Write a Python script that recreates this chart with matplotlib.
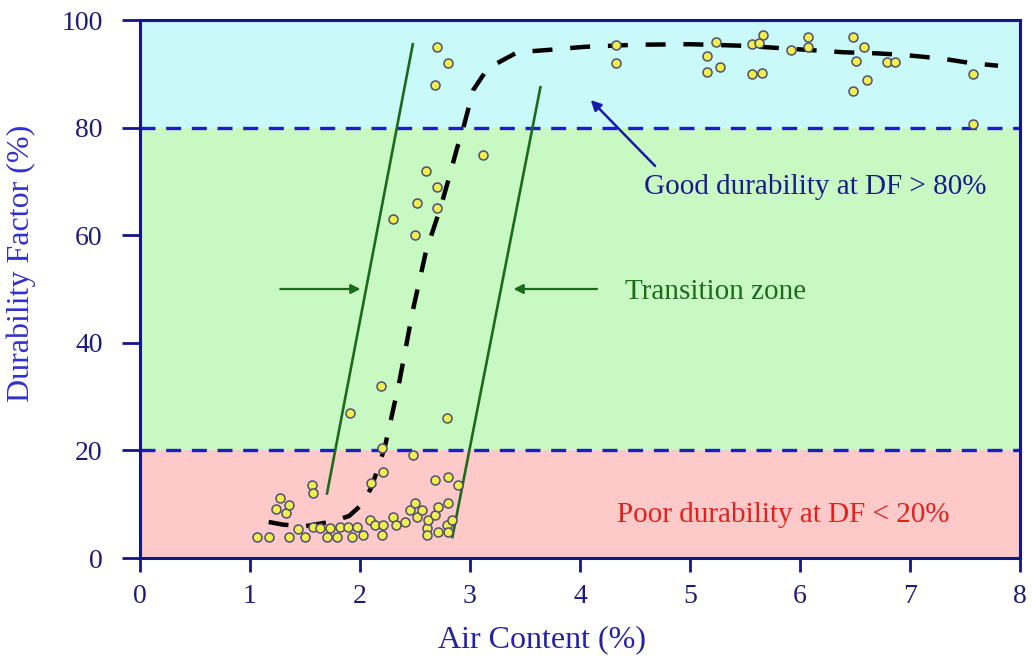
import numpy as np
import matplotlib
matplotlib.use("Agg")
import matplotlib.pyplot as plt

# data
air_content = [1.06, 1.17, 1.24, 1.27, 1.33, 1.35, 1.35, 1.44, 1.50, 1.56, 1.57, 1.57, 1.64,
               1.70, 1.73, 1.79, 1.82, 1.89, 1.91, 1.93, 1.97, 2.03, 2.09, 2.10, 2.14, 2.19,
               2.20, 2.20, 2.21, 2.21, 2.30, 2.30, 2.33, 2.41, 2.45, 2.48, 2.50, 2.50, 2.52,
               2.52, 2.56, 2.60, 2.61, 2.61, 2.62, 2.68, 2.68, 2.68, 2.70, 2.70, 2.70, 2.71,
               2.71, 2.79, 2.79, 2.80, 2.80, 2.80, 2.80, 2.84, 2.89, 3.12,
               4.33, 4.33, 5.15, 5.15, 5.24, 5.27, 5.56, 5.56, 5.63, 5.65, 5.66, 5.92,
               6.07, 6.07, 6.48, 6.48, 6.51, 6.58, 6.61, 6.79, 6.86, 7.57, 7.57]
durability = [3.9, 3.9, 9.1, 11.1, 8.4, 9.9, 3.9, 5.4, 3.9, 13.6, 12.0, 5.8, 5.6,
              3.9, 5.6, 3.9, 5.8, 5.8, 27.0, 3.9, 5.8, 4.3, 7.1, 14.0, 6.1, 32.0,
              20.4, 4.3, 16.0, 6.1, 7.6, 63.0, 6.1, 6.7, 8.9, 19.1, 10.2, 60.0, 66.0,
              7.6, 8.9, 72.0, 5.6, 4.3, 7.1, 14.5, 8.0, 88.0, 69.0, 65.0, 95.0, 9.5,
              4.8, 26.0, 6.1, 15.0, 10.2, 4.8, 92.0, 7.1, 13.6, 75.0,
              95.3, 92.0, 93.3, 90.3, 96.0, 91.3, 95.5, 90.0, 95.7, 90.1, 97.2, 94.4,
              96.8, 95.0, 96.8, 86.8, 92.4, 95.0, 88.8, 92.2, 92.2, 90.0, 80.7]

curve_x = [1.17, 1.3, 1.5, 1.75, 1.9, 2.02, 2.1, 2.17, 2.23, 2.36, 2.48, 2.6, 2.73, 2.8,
           2.88, 2.94, 3.03, 3.16, 3.43, 3.75, 4.03, 4.5, 5.0, 5.5, 6.1, 6.4, 6.7, 6.95,
           7.3, 7.55, 7.8]
curve_y = [6.7, 6.2, 5.9, 6.8, 7.8, 10.0, 13.0, 17.0, 21.0, 33.0, 46.0, 57.0, 65.0, 70.0,
           76.0, 80.0, 87.0, 91.0, 94.0, 94.5, 95.0, 95.4, 95.5, 95.2, 94.4, 94.0, 93.8,
           93.5, 92.8, 92.0, 91.5]

left_bound_x = [1.70, 2.48]
left_bound_y = [12.0, 95.5]
right_bound_x = [2.84, 3.64]
right_bound_y = [3.9, 87.5]

zone_edges = [0, 20, 80, 100]
zone_colors = ["#fdc9c9", "#c9f9c3", "#c9f9f9"]

navy = "#14148c"
green = "#1c6b1c"

plt.rcParams["font.family"] = ["Liberation Serif", "DejaVu Serif"]

fig = plt.figure(figsize=(10.32, 6.58), dpi=100)
fig.patch.set_facecolor("white")
ax = fig.add_axes([140 / 1032, 1 - 558 / 658, 880 / 1032, 538 / 658])

for i in range(3):
    ax.axhspan(zone_edges[i], zone_edges[i + 1], color=zone_colors[i], lw=0, zorder=0)

for yl in (20, 80):
    ax.axhline(yl, color="#1c1cc8", lw=2.4, ls=(0, (4.5, 3.2)), zorder=1)

# transition zone boundaries
ax.plot(left_bound_x, left_bound_y, color=green, lw=1.9, zorder=2)
ax.plot(right_bound_x, right_bound_y, color=green, lw=1.9, zorder=2)
ax.annotate("", xy=(2.03, 50), xytext=(1.25, 50),
            arrowprops=dict(arrowstyle="-|>", color=green, lw=1.6, mutation_scale=14))
ax.annotate("", xy=(3.37, 50), xytext=(4.18, 50),
            arrowprops=dict(arrowstyle="-|>", color=green, lw=1.6, mutation_scale=14))

ax.plot(curve_x, curve_y, color="black", lw=3.2, ls=(0, (4.5, 4)), zorder=3,
        solid_capstyle="butt")

ax.scatter(air_content, durability, s=42, facecolor="#f2ee4a", edgecolor="#4f4f78",
           lw=1.1, zorder=4)

ax.text(5.23, 49.5, "Transition zone", color=green, fontsize=21, ha="center", va="center")
ax.text(6.14, 69, "Good durability at DF > 80%", color="#1a1a8a", fontsize=21,
        ha="center", va="center")
ax.text(5.85, 8, "Poor durability at DF < 20%", color="#e4201c", fontsize=21,
        ha="center", va="center")
ax.annotate("", xy=(4.08, 85.5), xytext=(4.7, 72.5),
            arrowprops=dict(arrowstyle="-|>", color="#1a1aa8", lw=1.8, mutation_scale=15))

ax.set_xlim(0, 8)
ax.set_ylim(0, 100)
ax.set_xticks(range(0, 9))
ax.set_yticks(range(0, 101, 20))
for sp in ax.spines.values():
    sp.set_color(navy)
    sp.set_linewidth(2.2)
ax.tick_params(axis="y", direction="out", length=13, width=2, color=navy,
               labelcolor="#1c1c78", labelsize=20, pad=14)
ax.tick_params(axis="x", direction="out", length=10, width=2, color=navy,
               labelcolor="#1c1c78", labelsize=20, pad=9)

ax.set_xlabel("Air Content (%)", color="#2323a0", fontsize=23)
ax.xaxis.set_label_coords(0.457, -0.125)
ax.set_ylabel("Durability Factor (%)", color="#3030cc", fontsize=23)
ax.yaxis.set_label_coords(-0.118, 0.548)

fig.savefig("out.png", dpi=100)
